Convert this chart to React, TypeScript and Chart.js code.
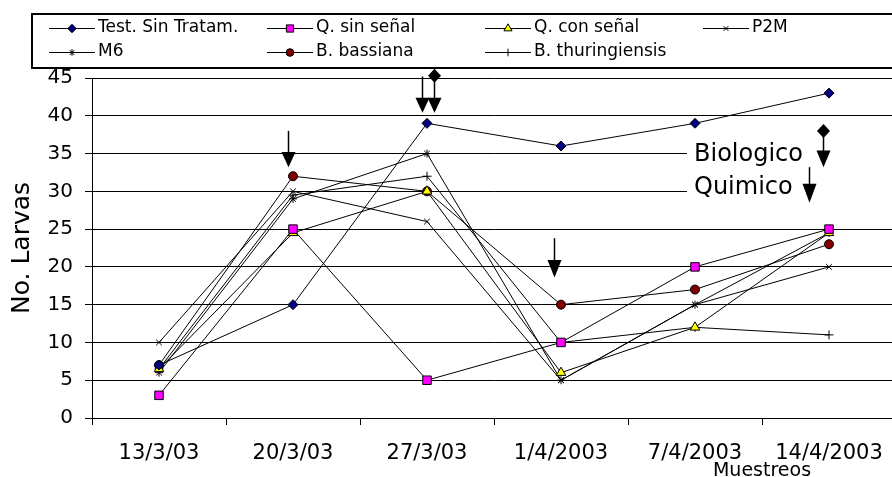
import React, { useEffect, useRef } from 'react';
import { Chart, registerables } from 'chart.js';
import { drawPoint } from 'chart.js/helpers';

Chart.register(...registerables);

// ---------- data ----------
const categories = ['13/3/03', '20/3/03', '27/3/03', '1/4/2003', '7/4/2003', '14/4/2003'];
const testSinTratam = [7, 15, 39, 36, 39, 43];
const qSinSenal = [3, 25, 5, 10, 20, 25];
const qConSenal = [6.5, 24.5, 30, 6, 12, 24.5];
const p2m = [10, 30, 26, 5, 15, 20];
const m6 = [6, 29, 35, 5, 15, 24.5];
const bBassiana = [7, 32, 30, 15, 17, 23];
const bThuringiensis = [6.5, 29.5, 32, 10, 12, 11];
const yTicks = [0, 5, 10, 15, 20, 25, 30, 35, 40, 45];

const seriesNames = ['Test. Sin Tratam.', 'Q. sin señal', 'Q. con señal', 'P2M', 'M6', 'B. bassiana', 'B. thuringiensis'];
const seriesValues = [testSinTratam, qSinSenal, qConSenal, p2m, m6, bBassiana, bThuringiensis];

// ---------- styles ----------
const pointStyles = ['rectRot', 'rect', 'triangle', 'crossRot', 'star', 'circle', 'cross'];
const pointFills = ['#000080', '#FF00FF', '#FFFF00', '#000000', '#000000', '#800000', '#000000'];
const pointRadii = [5, 6, 5.5, 4, 4, 4.5, 4.5];
const FONT = 'DejaVu Sans';

// annotations: category index + pixel offset, values in axis units
const arrows = [
  { cat: 1, dx: -5, from: 38.0, head: 35.2, tip: 33.2, diamond: false },
  { cat: 2, dx: -5, from: 45.2, head: 42.4, tip: 40.4, diamond: false },
  { cat: 2, dx: 7, from: 45.3, head: 42.4, tip: 40.4, diamond: true },
  { cat: 3, dx: -7, from: 23.8, head: 20.9, tip: 18.6, diamond: false },
  { cat: 5, dx: -6, from: 38.0, head: 35.4, tip: 33.2, diamond: true },
  { cat: 5, dx: -20, from: 33.2, head: 31.0, tip: 28.5, diamond: false },
];
const noteTexts = [
  { text: 'Biologico', cat: 4, dx: -1, value: 34.9 },
  { text: 'Quimico', cat: 4, dx: -1, value: 30.5 },
];

const annotPlugin = {
  id: 'annot',
  afterDraw(chart: any) {
    const { ctx } = chart;
    const xs = chart.scales.x;
    const ys = chart.scales.y;
    const W = chart.width;
    ctx.save();

    // legend box
    ctx.fillStyle = '#fff';
    ctx.fillRect(32, 14, W - 36, 54);
    ctx.strokeStyle = '#000';
    ctx.lineWidth = 2;
    ctx.strokeRect(32, 14, W - 36, 54);
    ctx.font = `17px "${FONT}"`;
    ctx.textBaseline = 'middle';
    ctx.textAlign = 'left';
    seriesNames.forEach((name, i) => {
      const row = i < 4 ? 0 : 1;
      const col = i < 4 ? i : i - 4;
      const x0 = 49 + col * 218;
      const y = row === 0 ? 28 : 52;
      ctx.strokeStyle = '#000';
      ctx.lineWidth = 1;
      ctx.beginPath();
      ctx.moveTo(x0, y + 0.5);
      ctx.lineTo(x0 + 46, y + 0.5);
      ctx.stroke();
      ctx.fillStyle = pointFills[i];
      ctx.strokeStyle = '#000';
      drawPoint(ctx, { pointStyle: pointStyles[i], radius: pointRadii[i] * 0.85, rotation: 0, borderWidth: 1 } as any, x0 + 23, y + 0.5);
      ctx.fillStyle = '#000';
      ctx.fillText(name, x0 + 49, y);
    });

    // white text box over the grid
    const bx = xs.getPixelForValue(4) - 8;
    const bTop = ys.getPixelForValue(38.3);
    const bBot = ys.getPixelForValue(26.8);
    ctx.fillStyle = '#fff';
    ctx.fillRect(bx, bTop, W - bx, bBot - bTop);
    ctx.fillStyle = '#000';
    ctx.font = `24px "${FONT}"`;
    ctx.textBaseline = 'middle';
    noteTexts.forEach((n) => {
      ctx.fillText(n.text, xs.getPixelForValue(n.cat) + n.dx, ys.getPixelForValue(n.value));
    });

    // arrows
    arrows.forEach((a) => {
      const x = Math.round(xs.getPixelForValue(a.cat) + a.dx) + 0.5;
      const yFrom = ys.getPixelForValue(a.from);
      const yHead = ys.getPixelForValue(a.head);
      const yTip = ys.getPixelForValue(a.tip);
      ctx.strokeStyle = '#000';
      ctx.fillStyle = '#000';
      ctx.lineWidth = 1.5;
      ctx.beginPath();
      ctx.moveTo(x, yFrom);
      ctx.lineTo(x, yHead + 1);
      ctx.stroke();
      ctx.beginPath();
      ctx.moveTo(x - 7, yHead);
      ctx.lineTo(x + 7, yHead);
      ctx.lineTo(x, yTip);
      ctx.closePath();
      ctx.fill();
      if (a.diamond) {
        ctx.beginPath();
        ctx.moveTo(x, yFrom - 7);
        ctx.lineTo(x + 6.5, yFrom);
        ctx.lineTo(x, yFrom + 7);
        ctx.lineTo(x - 6.5, yFrom);
        ctx.closePath();
        ctx.fill();
      }
    });

    // x axis title
    ctx.font = `19px "${FONT}"`;
    ctx.textAlign = 'center';
    ctx.textBaseline = 'middle';
    ctx.fillStyle = '#000';
    ctx.fillText('Muestreos', (xs.getPixelForValue(4) + xs.getPixelForValue(5)) / 2, 471);
    ctx.restore();
  },
};

export default function App() {
  const ref = useRef<HTMLCanvasElement | null>(null);
  useEffect(() => {
    if (!ref.current) return;
    const chart = new Chart(ref.current, {
      type: 'line',
      data: {
        labels: categories,
        datasets: seriesNames.map((name, i) => ({
          label: name,
          data: seriesValues[i],
          borderColor: '#000',
          borderWidth: 1,
          backgroundColor: pointFills[i],
          pointStyle: pointStyles[i] as any,
          pointRadius: pointRadii[i],
          pointBackgroundColor: pointFills[i],
          pointBorderColor: '#000',
          pointBorderWidth: 1,
          fill: false,
          tension: 0,
        })),
      },
      options: {
        animation: false,
        responsive: false,
        maintainAspectRatio: false,
        layout: { padding: { top: 78, right: 8, left: 0, bottom: 0 } },
        plugins: { legend: { display: false }, tooltip: { enabled: false } },
        scales: {
          x: {
            type: 'category',
            offset: true,
            grid: { display: true, drawOnChartArea: false, drawTicks: true, tickLength: 7, offset: true, color: '#000', lineWidth: 1 },
            border: { display: true, color: '#000', width: 1 },
            ticks: { color: '#000', font: { family: FONT, size: 21, lineHeight: 1 }, padding: 18, maxRotation: 0, minRotation: 0, autoSkip: false },
            afterFit: (s: any) => { s.height = 59; },
          },
          y: {
            min: yTicks[0],
            max: yTicks[yTicks.length - 1],
            afterBuildTicks: (s: any) => { s.ticks = yTicks.map((v) => ({ value: v })); },
            ticks: { color: '#000', font: { family: FONT, size: 20, lineHeight: 1 }, padding: 12 },
            grid: { color: '#000', lineWidth: 1, tickLength: 7, drawTicks: true },
            border: { display: true, color: '#000', width: 1 },
            title: { display: true, text: 'No. Larvas', color: '#000', font: { family: FONT, size: 25, lineHeight: 1 }, padding: { top: 10, bottom: 0 } },
            afterFit: (s: any) => { s.width = 92; },
          },
        },
      },
      plugins: [annotPlugin],
    });
    return () => chart.destroy();
  }, []);

  return (
    <div style={{ position: 'fixed', left: 0, top: 0, width: 892, height: 477, overflow: 'hidden', background: '#fff' }}>
      <canvas ref={ref} width={904} height={477} style={{ display: 'block', width: 904, height: 477 }} />
    </div>
  );
}
